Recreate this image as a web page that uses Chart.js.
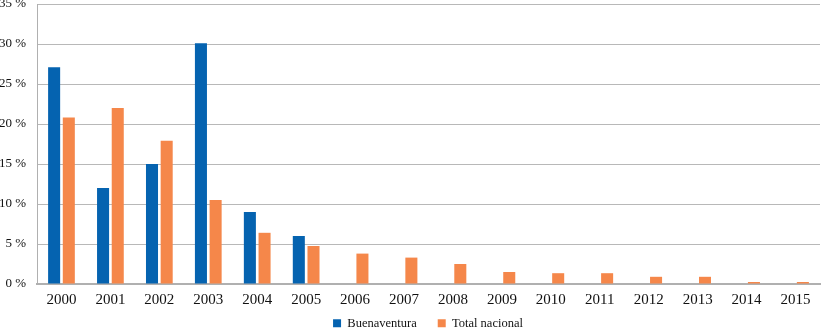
<!DOCTYPE html>
<html>
<head>
<meta charset="utf-8">
<script src="https://cdn.jsdelivr.net/npm/chart.js@4"></script>
<style>
  html, body { margin: 0; padding: 0; background: #fff; }
  #wrap { width: 835px; height: 332px; }
</style>
</head>
<body>
<div id="wrap"><canvas id="grafico"></canvas></div>
<script>
const anios = ['2000', '2001', '2002', '2003', '2004', '2005', '2006', '2007',
               '2008', '2009', '2010', '2011', '2012', '2013', '2014', '2015']
const buenaventura = [27.1, 12.0, 15.0, 30.1, 9.0, 6.0, null, null,
                      null, null, null, null, null, null, null, null]
const totalNacional = [20.8, 22.0, 17.9, 10.5, 6.4, 4.75, 3.8, 3.3,
                       2.5, 1.5, 1.35, 1.35, 0.9, 0.9, 0.25, 0.25]
const marcasY = [0, 5, 10, 15, 20, 25, 30, 35]

const fuente = "'Liberation Serif', 'DejaVu Serif', serif"

// la leyenda ocupa menos alto en el layout y luego se estira hacia arriba,
// asi se mantiene el hueco entre items sin encoger el grafico
const ajusteLeyenda = {
    id: 'ajusteLeyenda',
    beforeLayout(chart) {
        const ley = chart.legend
        if (!ley || ley._ajustada) return
        const fitOriginal = ley.fit.bind(ley)
        ley.fit = function () { fitOriginal(); this.height = 24 }
        ley._ajustada = true
    },
    afterLayout(chart) {
        const ley = chart.legend
        ley.bottom = chart.height
        ley.top = chart.height - 36
        ley.height = 36
        ley.left += 18
        ley.right += 18
    }
}

const data = {
    labels: anios,
    datasets: [{
        label: 'Buenaventura',
        data: buenaventura,
        backgroundColor: '#0563b0',
        categoryPercentage: 0.6,
        barPercentage: 0.82
    }, {
        label: 'Total nacional',
        data: totalNacional,
        backgroundColor: '#f5874a',
        categoryPercentage: 0.6,
        barPercentage: 0.82
    }]
}

const config = {
    type: 'bar',
    data: data,
    plugins: [ajusteLeyenda],
    options: {
        responsive: true,
        maintainAspectRatio: false,
        animation: false,
        layout: { padding: { top: 4, right: 15, left: 0, bottom: 0 } },
        plugins: {
            tooltip: { enabled: false },
            legend: {
                position: 'bottom',
                labels: {
                    boxWidth: 8,
                    boxHeight: 8,
                    padding: 21,
                    color: '#111',
                    font: { family: fuente, size: 12.5 }
                }
            }
        },
        scales: {
            x: {
                afterFit: (axis) => { axis.height = 24 },
                grid: { display: false, drawTicks: false },
                border: { color: '#b0b0b0', width: 2 },
                ticks: {
                    color: '#111',
                    padding: 7,
                    font: { family: fuente, size: 15 }
                }
            },
            y: {
                min: 0,
                max: 35,
                afterBuildTicks: (axis) => { axis.ticks = marcasY.map((v) => ({ value: v })) },
                afterFit: (axis) => {
                    axis.width = 37
                    axis.paddingTop = 0
                    axis.paddingBottom = 0
                },
                grid: { color: '#b8b8b8', drawTicks: false },
                border: { color: '#b0b0b0', width: 1 },
                ticks: {
                    color: '#111',
                    padding: 11,
                    font: { family: fuente, size: 13 },
                    callback: (v) => v + ' %'
                }
            }
        }
    }
}

new Chart(document.getElementById('grafico'), config)
</script>
</body>
</html>
